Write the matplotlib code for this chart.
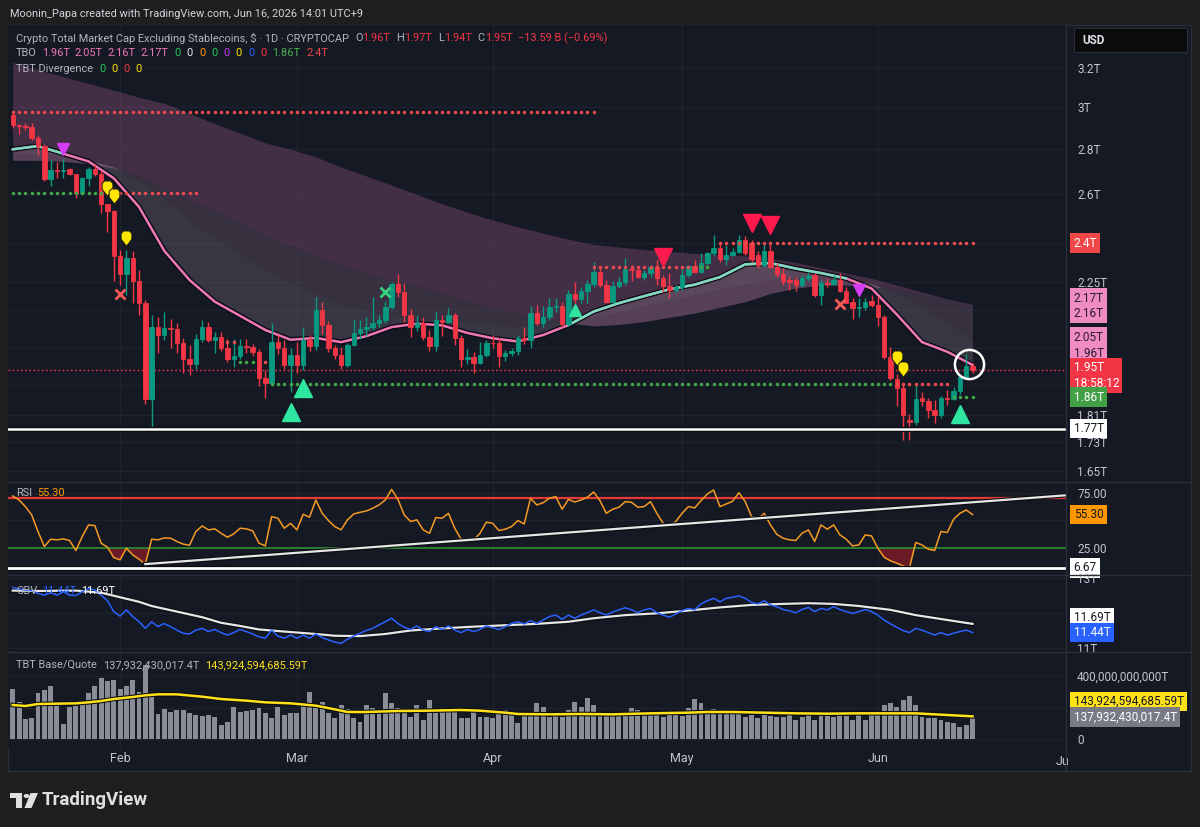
import matplotlib
matplotlib.use("Agg")
import matplotlib.pyplot as plt
import matplotlib.patheffects as pe
import numpy as np
import pandas as pd
from matplotlib.lines import Line2D
from matplotlib.patches import Rectangle, Circle, Polygon
from matplotlib.path import Path

plt.rcParams['font.family'] = ['Roboto', 'DejaVu Sans']

W, H = 1200, 827
BG_OUT = '#1e1e1e'
BG = '#151924'
GRID = '#1e222d'
SEP = '#2a2e39'
TXT = '#b2b5be'
AXTXT = '#c3c6ce'
UP = '#089981'
DOWN = '#f23645'
PINK = '#ee78b4'
TEAL = '#79dcc0'
RED_DOT = '#ef4b4f'
GREEN_DOT = '#43a847'

# ---------------- data ----------------
dates = pd.date_range('2026-01-15', '2026-06-16', freq='D')

opens = [2.960, 2.915, 2.910, 2.905, 2.852, 2.815, 2.666, 2.706, 2.702, 2.710,
         2.690, 2.606, 2.671, 2.710, 2.688, 2.560, 2.530, 2.349, 2.281, 2.342,
         2.255, 2.175, 1.858, 2.091, 2.064, 2.088, 2.083, 2.037, 1.984, 1.968,
         2.050, 2.091, 2.047, 2.057, 2.021, 1.984, 1.994, 2.027, 2.024, 2.007,
         1.924, 1.908, 2.040, 2.021, 1.965, 1.998, 1.965, 2.047, 2.027, 2.150,
         2.098, 2.021, 1.998, 1.965, 2.031, 2.071, 2.085, 2.091, 2.105, 2.115,
         2.161, 2.244, 2.215, 2.133, 2.091, 2.105, 2.057, 2.027, 2.115, 2.108,
         2.133, 2.054, 1.984, 1.991, 1.971, 1.998, 2.037, 2.036, 1.994, 2.004,
         2.010, 2.054, 2.047, 2.140, 2.105, 2.126, 2.161, 2.165, 2.101, 2.208,
         2.190, 2.218, 2.244, 2.289, 2.240, 2.179, 2.237, 2.251, 2.300, 2.296,
         2.270, 2.287, 2.308, 2.266, 2.237, 2.222, 2.233, 2.277, 2.311, 2.289,
         2.323, 2.361, 2.380, 2.338, 2.353, 2.365, 2.412, 2.400, 2.353, 2.315,
         2.369, 2.308, 2.281, 2.259, 2.259, 2.240, 2.266, 2.277, 2.204, 2.248,
         2.244, 2.259, 2.218, 2.179, 2.157, 2.161, 2.183, 2.168, 2.126, 1.991,
         1.920, 1.893, 1.795, 1.789, 1.860, 1.852, 1.825, 1.810, 1.861, 1.858,
         1.883, 1.927, 1.962]
highs = [2.970, 2.920, 2.925, 2.925, 2.867, 2.825, 2.751, 2.742, 2.756, 2.715,
         2.690, 2.675, 2.719, 2.733, 2.706, 2.560, 2.534, 2.372, 2.372, 2.368,
         2.296, 2.186, 2.133, 2.125, 2.143, 2.120, 2.105, 2.054, 2.030, 2.067,
         2.115, 2.110, 2.075, 2.075, 2.050, 2.050, 2.050, 2.050, 2.034, 2.017,
         1.949, 2.105, 2.064, 2.047, 2.020, 2.040, 2.091, 2.064, 2.197, 2.179,
         2.112, 2.031, 2.024, 2.037, 2.119, 2.115, 2.126, 2.197, 2.133, 2.183,
         2.251, 2.281, 2.247, 2.154, 2.133, 2.126, 2.081, 2.143, 2.133, 2.157,
         2.140, 2.064, 2.017, 2.007, 2.040, 2.047, 2.064, 2.054, 2.014, 2.020,
         2.064, 2.091, 2.165, 2.168, 2.165, 2.193, 2.193, 2.179, 2.222, 2.251,
         2.233, 2.259, 2.327, 2.308, 2.259, 2.255, 2.270, 2.342, 2.315, 2.308,
         2.296, 2.315, 2.334, 2.277, 2.285, 2.240, 2.304, 2.315, 2.334, 2.361,
         2.365, 2.432, 2.404, 2.392, 2.380, 2.432, 2.428, 2.412, 2.369, 2.400,
         2.400, 2.323, 2.304, 2.274, 2.270, 2.277, 2.289, 2.285, 2.259, 2.266,
         2.277, 2.285, 2.233, 2.193, 2.193, 2.193, 2.204, 2.200, 2.133, 2.024,
         1.936, 1.902, 1.813, 1.902, 1.880, 1.861, 1.855, 1.868, 1.886, 1.894,
         1.930, 2.000, 1.970]
lows = [2.900, 2.870, 2.890, 2.843, 2.774, 2.657, 2.635, 2.670, 2.670, 2.684,
        2.584, 2.597, 2.636, 2.680, 2.521, 2.444, 2.255, 2.240, 2.204, 2.175,
        2.133, 1.843, 1.772, 2.004, 2.047, 2.020, 2.004, 1.940, 1.933, 1.952,
        2.040, 2.040, 2.004, 2.010, 1.975, 1.958, 1.984, 2.004, 1.994, 1.899,
        1.862, 1.899, 2.000, 1.952, 1.880, 1.940, 1.949, 2.010, 2.014, 2.067,
        2.007, 1.984, 1.952, 1.958, 2.028, 2.050, 2.060, 2.080, 2.090, 2.105,
        2.155, 2.197, 2.108, 2.057, 2.078, 2.047, 2.010, 2.010, 2.060, 2.105,
        2.031, 1.958, 1.968, 1.940, 1.968, 1.990, 2.020, 1.958, 1.978, 1.994,
        1.998, 2.034, 2.020, 2.098, 2.092, 2.115, 2.143, 2.092, 2.095, 2.175,
        2.175, 2.175, 2.233, 2.233, 2.175, 2.175, 2.230, 2.240, 2.255, 2.266,
        2.259, 2.270, 2.240, 2.215, 2.193, 2.215, 2.222, 2.270, 2.285, 2.285,
        2.315, 2.350, 2.327, 2.315, 2.350, 2.361, 2.353, 2.327, 2.304, 2.308,
        2.304, 2.270, 2.240, 2.222, 2.218, 2.233, 2.255, 2.197, 2.168, 2.233,
        2.240, 2.215, 2.175, 2.119, 2.126, 2.150, 2.161, 2.095, 1.984, 1.917,
        1.837, 1.737, 1.737, 1.781, 1.837, 1.800, 1.787, 1.800, 1.840, 1.855,
        1.873, 1.920, 1.940]
closes = [2.914, 2.910, 2.905, 2.852, 2.815, 2.666, 2.706, 2.702, 2.708, 2.688,
          2.606, 2.671, 2.710, 2.688, 2.560, 2.530, 2.349, 2.281, 2.342, 2.255,
          2.175, 1.858, 2.091, 2.064, 2.088, 2.083, 2.037, 1.984, 1.968, 2.050,
          2.091, 2.047, 2.057, 2.021, 1.984, 1.994, 2.027, 2.024, 2.007, 1.924,
          1.908, 2.040, 2.021, 1.965, 1.998, 1.965, 2.047, 2.027, 2.150, 2.098,
          2.021, 1.998, 1.965, 2.031, 2.071, 2.085, 2.091, 2.105, 2.115, 2.161,
          2.244, 2.215, 2.133, 2.091, 2.105, 2.057, 2.027, 2.115, 2.108, 2.133,
          2.054, 1.984, 1.991, 1.971, 1.998, 2.037, 2.036, 1.994, 2.004, 2.010,
          2.054, 2.047, 2.140, 2.105, 2.126, 2.161, 2.165, 2.101, 2.208, 2.190,
          2.218, 2.244, 2.289, 2.240, 2.179, 2.237, 2.251, 2.300, 2.296, 2.270,
          2.287, 2.308, 2.266, 2.237, 2.222, 2.233, 2.277, 2.311, 2.289, 2.323,
          2.361, 2.380, 2.338, 2.353, 2.365, 2.412, 2.361, 2.338, 2.315, 2.369,
          2.308, 2.281, 2.255, 2.251, 2.240, 2.266, 2.274, 2.204, 2.248, 2.244,
          2.259, 2.218, 2.175, 2.157, 2.161, 2.179, 2.168, 2.126, 1.991, 1.924,
          1.893, 1.810, 1.789, 1.858, 1.852, 1.825, 1.810, 1.861, 1.858, 1.883,
          1.927, 1.962, 1.950]

# TBO cloud lines, sampled every 4 days
cloud_idx = list(range(0, 153, 4))
tbo_fast = [2.800, 2.815, 2.780, 2.745, 2.670, 2.547, 2.370, 2.259, 2.180, 2.130,
            2.081, 2.048, 2.054, 2.040, 2.060, 2.091, 2.103, 2.097, 2.071, 2.053,
            2.042, 2.064, 2.098, 2.145, 2.175, 2.200, 2.225, 2.242, 2.270, 2.318,
            2.323, 2.302, 2.285, 2.265, 2.228, 2.135, 2.040, 2.008, 1.965]
tbo_mid = [2.78, 2.78, 2.77, 2.75, 2.72, 2.66, 2.58, 2.49, 2.42, 2.36,
           2.30, 2.25, 2.21, 2.17, 2.15, 2.13, 2.12, 2.115, 2.11, 2.10,
           2.095, 2.10, 2.11, 2.125, 2.145, 2.165, 2.185, 2.205, 2.225, 2.245,
           2.26, 2.27, 2.27, 2.26, 2.245, 2.21, 2.16, 2.11, 2.05]
tbo_slow = [2.75, 2.75, 2.745, 2.735, 2.715, 2.68, 2.63, 2.575, 2.53, 2.48,
            2.43, 2.39, 2.35, 2.315, 2.285, 2.26, 2.235, 2.21, 2.185, 2.16,
            2.14, 2.12, 2.105, 2.095, 2.10, 2.11, 2.125, 2.14, 2.16, 2.18,
            2.21, 2.23, 2.24, 2.24, 2.235, 2.225, 2.205, 2.185, 2.16]
tbo_long = [3.23, 3.19, 3.155, 3.12, 3.085, 3.05, 3.02, 2.97, 2.92, 2.875,
            2.83, 2.80, 2.765, 2.72, 2.68, 2.64, 2.60, 2.56, 2.525, 2.493,
            2.465, 2.44, 2.415, 2.395, 2.385, 2.375, 2.367, 2.36, 2.355, 2.35,
            2.34, 2.325, 2.305, 2.285, 2.265, 2.24, 2.215, 2.19, 2.17]
teal_spans = [(0, 8), (88, 132)]

# pivot dotted levels: (value, first day, last day, colour)
pivots = [(2.977, 0, 92, RED_DOT),
          (2.606, 0, 14, GREEN_DOT), (2.606, 15, 29, RED_DOT),
          (2.040, 34, 35, RED_DOT),
          (1.975, 36, 38, GREEN_DOT), (1.975, 40, 40, RED_DOT),
          (1.905, 41, 139, GREEN_DOT), (1.905, 140, 148, RED_DOT),
          (2.308, 92, 108, RED_DOT), (2.308, 109, 110, GREEN_DOT),
          (2.400, 112, 152, RED_DOT),
          (1.864, 149, 152, GREEN_DOT)]
support_level = 1.77

purple_tri = [(8, 2.80), (134, 2.222)]
yellow_drop = [(15, 2.632), (16, 2.597), (18, 2.424), (140, 1.991), (141, 1.955)]
red_x = [(17, 2.207), (131, 2.172)]
green_x = [(59, 2.215)]
big_red_tri = [(103, 2.345), (117, 2.48), (120, 2.472)]
big_green_tri = [(44, 1.819), (46, 1.892), (150, 1.813)]
small_green_tri = [(89, 2.15)]
circle_mark = (151.4, 1.968)

price_ticks = [1.65, 1.73, 1.81, 1.9, 2.02, 2.15, 2.25, 2.4, 2.6, 2.8, 3.0, 3.2]
price_tick_labels = ['1.65T', '1.73T', '1.81T', '', '', '2.15T', '2.25T',
                     '', '2.6T', '2.8T', '3T', '3.2T']

rsi = [72.3, 68.6, 62.6, 55.0, 39.9, 26.2, 32.9, 32.3, 33.2, 31.7,
       22.6, 35.3, 45.9, 45.3, 29.3, 25.6, 16.2, 14.1, 24.7, 18.6,
       14.7, 10.2, 32.9, 32.3, 34.1, 33.8, 30.8, 28.4, 27.4, 39.9,
       45.0, 41.4, 42.3, 38.3, 34.7, 37.7, 42.9, 42.3, 40.5, 29.3,
       26.8, 53.5, 52.0, 42.9, 47.4, 41.4, 55.6, 52.9, 68.6, 56.5,
       49.9, 44.4, 41.4, 50.5, 55.9, 57.4, 58.6, 61.1, 64.1, 68.6,
       78.3, 69.2, 55.0, 49.0, 50.5, 41.4, 38.3, 52.6, 52.0, 56.5,
       42.9, 32.9, 33.5, 32.3, 38.3, 48.4, 47.4, 40.8, 42.0, 44.4,
       49.9, 46.8, 70.2, 64.1, 66.2, 70.2, 71.7, 60.2, 69.2, 66.8,
       68.6, 71.1, 75.9, 68.0, 56.5, 60.2, 62.0, 67.1, 66.5, 62.0,
       62.6, 67.1, 56.5, 47.4, 44.4, 49.0, 56.5, 62.6, 61.4, 68.0,
       74.1, 77.7, 62.6, 65.0, 67.4, 75.3, 67.1, 53.5, 51.1, 56.5,
       45.9, 37.4, 33.8, 32.3, 31.7, 38.3, 41.4, 30.8, 45.9, 42.0,
       45.9, 36.8, 32.9, 26.8, 27.7, 36.8, 35.9, 24.7, 16.5, 13.2,
       11.1, 8.6, 6.67, 29.9, 27.7, 23.8, 22.6, 39.9, 39.0, 51.1,
       56.5, 59.5, 55.3]
rsi_trend = [(21, 10.2), (166.8, 72.9)]

obv = [12.73, 12.69, 12.65, 12.64, 12.56, 12.51, 12.58, 12.51, 12.61, 12.51,
       12.50, 12.61, 12.70, 12.66, 12.51, 12.35, 12.04, 11.91, 12.09, 11.90,
       11.75, 11.56, 11.75, 11.61, 11.70, 11.61, 11.51, 11.42, 11.40, 11.51,
       11.56, 11.47, 11.53, 11.44, 11.37, 11.44, 11.53, 11.47, 11.40, 11.32,
       11.28, 11.51, 11.34, 11.28, 11.37, 11.28, 11.37, 11.28, 11.40, 11.30,
       11.23, 11.17, 11.13, 11.25, 11.34, 11.42, 11.50, 11.56, 11.66, 11.75,
       11.85, 11.70, 11.59, 11.53, 11.63, 11.51, 11.47, 11.61, 11.53, 11.63,
       11.51, 11.44, 11.53, 11.47, 11.53, 11.63, 11.58, 11.53, 11.61, 11.70,
       11.75, 11.69, 11.78, 11.70, 11.80, 11.90, 11.94, 11.82, 11.94, 11.85,
       11.94, 12.01, 12.09, 12.01, 11.94, 12.03, 12.09, 12.15, 12.09, 12.01,
       12.09, 12.13, 12.01, 11.94, 11.88, 11.97, 12.07, 12.13, 12.09, 12.26,
       12.35, 12.42, 12.32, 12.42, 12.45, 12.49, 12.42, 12.30, 12.26, 12.35,
       12.23, 12.18, 12.10, 12.06, 12.01, 12.10, 12.16, 12.04, 12.13, 12.09,
       12.18, 12.10, 12.04, 11.99, 12.04, 12.10, 12.04, 11.94, 11.80, 11.69,
       11.59, 11.50, 11.44, 11.56, 11.51, 11.44, 11.37, 11.44, 11.37, 11.42,
       11.47, 11.51, 11.44]
obv_ma_idx = [0, 4, 10, 14, 17, 20, 22, 26, 30, 33, 36, 39, 43, 48, 51, 55, 59, 63, 68,
              73, 78, 83, 88, 92, 97, 102, 107, 112, 117, 122, 126, 130, 134, 139, 143, 148, 152]
obv_ma = [12.64, 12.63, 12.64, 12.58, 12.45, 12.32, 12.20, 12.04, 11.88, 11.72, 11.63,
          11.53, 11.47, 11.40, 11.35, 11.34, 11.40, 11.50, 11.56, 11.61, 11.65, 11.69,
          11.75, 11.85, 11.94, 11.99, 12.07, 12.16, 12.23, 12.26, 12.28, 12.26, 12.20,
          12.09, 11.94, 11.80, 11.69]

# TBT base/quote volume, in billions of T
volume = [315.4, 237.1, 127.0, 131.3, 290.0, 311.1, 336.5, 215.9, 95.3, 205.3,
          209.6, 226.5, 290.0, 336.5, 385.2, 370.4, 374.6, 315.4, 336.5, 374.6,
          300.6, 469.9, 290.0, 158.8, 188.4, 173.6, 184.2, 184.2, 163.0, 152.4,
          146.1, 152.4, 141.8, 88.9, 110.1, 205.3, 173.6, 179.9, 184.2, 194.7,
          167.2, 131.3, 205.3, 152.4, 163.0, 167.2, 209.6, 300.6, 194.7, 237.1,
          163.0, 131.3, 215.9, 188.4, 131.3, 110.1, 215.9, 194.7, 184.2, 290.0,
          226.5, 194.7, 184.2, 141.8, 215.9, 120.7, 247.7, 163.0, 194.7, 188.4,
          173.6, 131.3, 131.3, 173.6, 141.8, 141.8, 131.3, 173.6, 184.2, 173.6,
          99.5, 173.6, 163.0, 230.7, 201.1, 141.8, 152.4, 141.8, 184.2, 237.1,
          205.3, 258.3, 215.9, 173.6, 152.4, 152.4, 173.6, 152.4, 194.7, 184.2,
          163.0, 152.4, 152.4, 141.8, 173.6, 173.6, 146.1, 194.7, 251.9, 226.5,
          163.0, 188.4, 184.2, 173.6, 163.0, 173.6, 141.8, 152.4, 131.3, 152.4,
          146.1, 141.8, 141.8, 152.4, 120.7, 141.8, 173.6, 120.7, 163.0, 152.4,
          141.8, 163.0, 146.1, 120.7, 173.6, 120.7, 152.4, 163.0, 215.9, 226.5,
          205.3, 247.7, 273.1, 215.9, 141.8, 135.5, 131.3, 120.7, 110.1, 99.5,
          78.4, 88.9, 137.9]
vol_ma_idx = [0, 2, 4, 10, 12, 14, 16, 19, 21, 23, 26, 30, 33, 37, 40, 44, 48, 51, 53, 56,
              61, 66, 71, 74, 78, 80, 85, 90, 95, 101, 107, 110, 114, 119, 124, 129, 134,
              139, 143, 148, 152]
vol_ma = [215.9, 209.6, 222.3, 226.5, 232.8, 241.3, 254.0, 266.7, 277.3, 283.6, 283.6,
          268.8, 254.0, 243.4, 232.8, 226.5, 211.7, 188.4, 171.5, 171.5, 177.8, 179.9,
          184.2, 179.9, 167.2, 158.8, 156.7, 158.8, 156.7, 163.0, 167.2, 171.5, 171.5,
          167.2, 163.0, 160.9, 163.0, 163.0, 163.0, 152.4, 143.9]

month_names = ['Feb', 'Mar', 'Apr', 'May', 'Jun']
month_pos = [(pd.Timestamp(f'2026-{m:02d}-01') - dates[0]).days for m in range(2, 7)]

# ---------------- figure ----------------
x = np.arange(len(dates))
o, h, l, c = map(np.array, (opens, highs, lows, closes))
h = np.maximum(h, np.maximum(o, c))
l = np.minimum(l, np.minimum(o, c))

fig = plt.figure(figsize=(12, 8.27), dpi=100, facecolor=BG_OUT)
renderer = fig.canvas.get_renderer()


def fx(px):
    return px / W


def fy(py):
    return 1 - py / H


def outline(w):
    return [pe.Stroke(linewidth=w, foreground='#0b0d13'), pe.Normal()]


fig.patches.append(Rectangle((fx(8), fy(771)), (1191 - 8) / W, (771 - 25) / H,
                             transform=fig.transFigure, fc=BG, ec=SEP, lw=1, zorder=-5))


def add_ax(y0, y1):
    ax = fig.add_axes([fx(8), fy(y1), (1066 - 8) / W, (y1 - y0) / H])
    ax.set_facecolor(BG)
    for s in ax.spines.values():
        s.set_visible(False)
    ax.set_xlim(-0.75, 166.8)
    ax.set_xticks(month_pos)
    ax.tick_params(axis='x', length=0, labelbottom=False)
    ax.tick_params(axis='y', length=0, left=False, labelleft=False, labelright=True,
                   labelsize=8.5, labelcolor=AXTXT, pad=8)
    ax.grid(True, color=GRID, lw=0.9)
    ax.set_axisbelow(True)
    return ax


def tag(ax, val, text, fc, tc, dy=0):
    ax.annotate(text, xy=(1, val), xycoords=ax.get_yaxis_transform(), xytext=(5.5, dy),
                textcoords='offset points', ha='left', va='center', fontsize=8.5,
                color=tc, zorder=30, annotation_clip=False, linespacing=1.25,
                bbox=dict(boxstyle='square,pad=0.28', fc=fc, ec='none'))


def runs(x_px, y_px, parts, size=7.9):
    xp = x_px
    for s, col, gap in parts:
        t = fig.text(fx(xp), fy(y_px), s, color=col, fontsize=size, va='center', ha='left')
        xp += t.get_window_extent(renderer).width + gap


# ---- main price panel ----
ax = add_ax(25, 481)
ax.set_yscale('log')
ax.set_ylim(1.624, 3.434)
ax.set_yticks(price_ticks, price_tick_labels)
ax.minorticks_off()

gx = np.array(cloud_idx)
ax.fill_between(gx, tbo_slow, tbo_long, color='#74466a', alpha=0.48, lw=0, zorder=1)
ax.fill_between(gx, tbo_mid, tbo_slow, color='#8c6f86', alpha=0.28, lw=0, zorder=1)
ax.fill_between(gx, tbo_fast, tbo_mid, color='#b0a0b0', alpha=0.22, lw=0, zorder=1)

ax.axhline(c[-1], color=DOWN, lw=1, ls=(0, (1.2, 1.8)), zorder=2)

fast = np.array(tbo_fast)
ax.plot(gx, fast, color=PINK, lw=1.8, zorder=3, path_effects=outline(3.8))
for a, b in teal_spans:
    m = (gx >= a) & (gx <= b)
    ax.plot(gx[m], fast[m], color=TEAL, lw=1.8, zorder=3, solid_capstyle='round')

cols = np.where(c >= o, UP, DOWN)
ax.vlines(x, l, h, colors=cols, lw=1, zorder=4)
ax.bar(x, np.abs(c - o), bottom=np.minimum(o, c), width=0.7, color=cols,
       edgecolor=cols, lw=0.6, zorder=5)

for val, a, b, col in pivots:
    xs = np.arange(a, b + 1)
    ax.plot(xs, np.full(len(xs), val), ls='none', marker='o', ms=2.5, mew=0,
            color=col, zorder=6)

ax.axhline(support_level, color='white', lw=1.8, zorder=7, path_effects=outline(3.8))

drop = Path([(0, -1.0), (0.62, -0.2), (0.62, 0.45), (0.35, 0.75), (-0.35, 0.75),
             (-0.62, 0.45), (-0.62, -0.2), (0, -1.0)],
            [Path.MOVETO] + [Path.LINETO] * 6 + [Path.CLOSEPOLY])


def mark(pts, **kw):
    xs, ys = zip(*pts)
    ax.plot(xs, ys, ls='none', zorder=8, **kw)


mark(purple_tri, marker='v', ms=8, color='#d63cf5')
mark(yellow_drop, marker=drop, ms=12.5, color='#ffe600', mec='#1a1a1a', mew=0.7)
mark(red_x, marker='x', ms=6.5, mew=2, color='#f25c54')
mark(green_x, marker='x', ms=6.5, mew=2, color='#3ad080')
mark(big_red_tri, marker='v', ms=13, color='#ff1a4d')
mark(big_green_tri, marker='^', ms=13, color='#2ee6a0')
mark(small_green_tri, marker='^', ms=8, color='#2ee6a0')
ax.plot(*circle_mark, marker='o', ms=21, mfc='none', mec='white', mew=1.8, zorder=9)

tag(ax, 2.4, '2.4T', '#f04848', 'white')
tag(ax, 2.165, '2.17T\n2.16T', '#f08cc4', '#2a1a28')
tag(ax, 2.05, '2.05T', '#f08cc4', '#2a1a28', dy=1.4)
tag(ax, tbo_fast[-1], '1.96T', '#f08cc4', '#2a1a28', dy=8)
tag(ax, c[-1], '1.95T\n18:58:12', DOWN, 'white', dy=-4.3)
tag(ax, 1.864, '1.86T', '#43a047', 'white')
tag(ax, support_level, '1.77T', 'white', '#131722')

# ---- RSI panel ----
ax_r = add_ax(482, 574)
ax_r.set_ylim(1.2, 85)
ax_r.set_yticks([25, 50, 75], ['25.00', '', '75.00'])
r = np.array(rsi)
ax_r.fill_between(x, r, 25, where=r < 25, interpolate=True, color='#a31b2a', alpha=0.6, lw=0)
ax_r.axhline(70, color='#e53935', lw=1.6, zorder=2)
ax_r.axhline(25, color='#2e7d32', lw=1.4, zorder=2)
ax_r.plot(x, r, color='#f59a23', lw=1.1, zorder=4)
ax_r.axhline(r.min(), color='white', lw=2, zorder=5, path_effects=outline(3.8))
tx, ty = zip(*rsi_trend)
ax_r.plot(tx, ty, color='#e6e6e6', lw=1.6, zorder=5, path_effects=outline(3.2))
tag(ax_r, r[-1], f'{r[-1]:.2f}', '#ff9800', '#131722')
tag(ax_r, r.min(), f'{r.min():.2f}', 'white', '#131722')

# ---- OBV panel ----
ax_o = add_ax(575, 651)
ax_o.set_ylim(10.914, 13.086)
ax_o.set_yticks([11, 12, 13], ['11T', '', '13T'])
ax_o.plot(obv_ma_idx, obv_ma, color='#e6e6e6', lw=1.6, zorder=3, path_effects=outline(3.2))
ax_o.plot(x, obv, color='#2962ff', lw=1.1, zorder=4)
tag(ax_o, obv_ma[-1], f'{obv_ma[-1]:.2f}T', 'white', '#131722', dy=4.3)
tag(ax_o, obv[-1], f'{obv[-1]:.2f}T', '#2962ff', 'white')

# ---- volume panel ----
ax_v = add_ax(652, 748)
ax_v.set_ylim(-57.1, 552.4)
ax_v.set_yticks([0, 200, 400], ['0', '', '400,000,000,000T'])
ax_v.bar(x, volume, width=0.78, color='#8a8d97', zorder=3)
ax_v.plot(vol_ma_idx, vol_ma, color='#ffe11a', lw=1.8, zorder=4, path_effects=outline(3.3))
tag(ax_v, vol_ma[-1], '143,924,594,685.59T', '#ffe11a', '#131722', dy=10.8)
tag(ax_v, volume[-1], '137,932,430,017.4T', '#787b86', 'white')
ax_v.set_xticks(month_pos, month_names)
ax_v.tick_params(axis='x', labelbottom=True, labelcolor=AXTXT, labelsize=9, pad=3)
ax_v.text(166.3, -0.14, 'Ju', transform=ax_v.get_xaxis_transform(), ha='center',
          va='center', color=AXTXT, fontsize=9)

# ---- separators ----
for yy in (481.5, 574.5, 651.5):
    fig.add_artist(Line2D([fx(8), fx(1191)], [fy(yy), fy(yy)], color=SEP, lw=1))
fig.add_artist(Line2D([fx(1066), fx(1066)], [fy(25), fy(771)], color=SEP, lw=1))

# ---- texts ----
fig.text(fx(10), fy(14), 'Moonin_Papa created with TradingView.com, Jun 16, 2026 14:01 UTC+9',
         color='#d1d4dc', fontsize=7.9, va='center')
runs(16, 38, [('Crypto Total Market Cap Excluding Stablecoins, $ · 1D · CRYPTOCAP', TXT, 6),
              ('O', TXT, 0), ('1.96T', DOWN, 6), ('H', TXT, 0), ('1.97T', DOWN, 6),
              ('L', TXT, 0), ('1.94T', DOWN, 6), ('C', TXT, 0), ('1.95T', DOWN, 6),
              ('\u221213.59 B (\u22120.69%)', DOWN, 0)])
runs(16, 53, [('TBO', TXT, 5), ('1.96T', PINK, 5), ('2.05T', PINK, 5), ('2.16T', PINK, 5),
              ('2.17T', PINK, 6), ('0', '#22c55e', 6), ('0', '#e6e6e6', 6), ('0', '#ff9800', 6),
              ('0', '#22c55e', 6), ('0', '#c040f0', 6), ('0', '#ffe600', 6), ('0', '#2962ff', 6),
              ('0', '#f23645', 6), ('1.86T', '#4caf50', 6), ('2.4T', '#f04848', 0)])
runs(16, 69, [('TBT Divergence', TXT, 6), ('0', '#22c55e', 6), ('0', '#ffe600', 6),
              ('0', '#f23645', 6), ('0', '#ffe600', 0)])
runs(16, 493, [('RSI', TXT, 5), ('55.30', '#ff9800', 0)])
runs(16, 591, [('OBV', TXT, 5), ('11.44T', '#2962ff', 5), ('11.69T', '#ffffff', 0)])
runs(16, 665, [('TBT Base/Quote', TXT, 6), ('137,932,430,017.4T', TXT, 6),
               ('143,924,594,685.59T', '#ffe11a', 0)])

fig.patches.append(Rectangle((fx(1074), fy(52)), 113 / W, 24 / H, transform=fig.transFigure,
                             fc='#0b0b0b', ec=SEP, lw=0.8, zorder=1))
fig.text(fx(1082), fy(40), 'USD', color='#e0e3eb', fontsize=8.5, fontweight='bold', va='center')

# TradingView logo
logo = '#e0e0e0'
fig.patches.append(Rectangle((fx(10), fy(798)), 12 / W, 5 / H, transform=fig.transFigure, fc=logo))
fig.patches.append(Rectangle((fx(16), fy(808)), 6 / W, 15 / H, transform=fig.transFigure, fc=logo))
fig.patches.append(Circle((fx(26.5), fy(796)), 2.9 / W, transform=fig.transFigure, fc=logo))
fig.patches.append(Polygon([(fx(30.5), fy(793)), (fx(38), fy(793)), (fx(31.5), fy(808)),
                            (fx(24.5), fy(808))], closed=True, transform=fig.transFigure, fc=logo))
fig.text(fx(42), fy(800), 'TradingView', color=logo, fontsize=13.5, fontweight='bold', va='center')

fig.savefig('out.png', dpi=100, facecolor=BG_OUT)
